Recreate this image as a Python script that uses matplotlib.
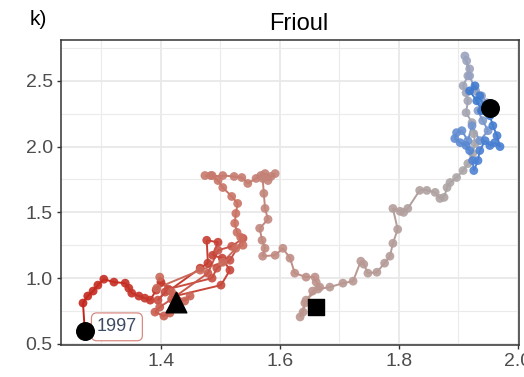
import numpy as np
import matplotlib
matplotlib.use("Agg")
import matplotlib.pyplot as plt
from matplotlib.collections import LineCollection
from matplotlib.colors import LinearSegmentedColormap
from matplotlib.ticker import MultipleLocator

plt.rcParams['font.family'] = ['Liberation Sans', 'DejaVu Sans']

# yearly trajectory of the Frioul site, in time order
x_vals = [
    1.272, 1.269, 1.277, 1.286, 1.294, 1.304, 1.321, 1.340, 1.346, 1.351,
    1.363, 1.373, 1.382, 1.392, 1.400, 1.415, 1.466, 1.479, 1.477, 1.496,
    1.487, 1.503, 1.516, 1.501, 1.424, 1.407, 1.395, 1.412, 1.486, 1.494,
    1.516, 1.538, 1.519, 1.496, 1.479, 1.418, 1.398, 1.390, 1.405, 1.415,
    1.427, 1.449, 1.440, 1.418, 1.398, 1.393, 1.466, 1.504, 1.526, 1.538,
    1.534, 1.528, 1.524, 1.526, 1.529, 1.519, 1.504, 1.496, 1.484, 1.474,
    1.486, 1.504, 1.523, 1.536, 1.546, 1.560, 1.568, 1.575, 1.585, 1.592,
    1.580, 1.571, 1.573, 1.575, 1.580, 1.566, 1.570, 1.575, 1.571, 1.592,
    1.605, 1.617, 1.625, 1.644, 1.659, 1.661, 1.667, 1.655, 1.642, 1.639,
    1.634, 1.644, 1.664, 1.684, 1.706, 1.723, 1.736, 1.741, 1.748, 1.763,
    1.776, 1.785, 1.790, 1.798, 1.790, 1.802, 1.808, 1.815, 1.835, 1.847,
    1.861, 1.869, 1.876, 1.881, 1.886, 1.897, 1.908, 1.916, 1.924, 1.928,
    1.926, 1.923, 1.913, 1.916, 1.913, 1.908, 1.916, 1.919, 1.914, 1.911,
    1.919, 1.929, 1.939, 1.948, 1.933, 1.941, 1.950, 1.936, 1.923, 1.916,
    1.906, 1.897, 1.894, 1.903, 1.913, 1.919, 1.924, 1.926, 1.933, 1.936,
    1.945, 1.953, 1.961, 1.970, 1.965, 1.958, 1.953, 1.943, 1.936, 1.928,
    1.919, 1.931, 1.939, 1.953,
]
y_vals = [
    0.598, 0.811, 0.864, 0.902, 0.947, 0.992, 0.970, 0.962, 0.924, 0.886,
    0.864, 0.848, 0.833, 0.909, 0.970, 0.909, 1.076, 1.114, 1.288, 1.273,
    1.174, 1.152, 1.061, 0.947, 0.864, 0.894, 0.833, 0.917, 1.000, 1.076,
    1.136, 1.303, 1.242, 1.212, 1.038, 0.841, 0.780, 0.742, 0.712, 0.735,
    0.803, 0.864, 0.826, 0.894, 1.008, 0.924, 1.061, 1.121, 1.227, 1.250,
    1.311, 1.348, 1.417, 1.492, 1.568, 1.621, 1.689, 1.742, 1.780, 1.780,
    1.780, 1.780, 1.773, 1.765, 1.720, 1.758, 1.780, 1.795, 1.773, 1.795,
    1.742, 1.758, 1.644, 1.530, 1.447, 1.379, 1.288, 1.227, 1.167, 1.174,
    1.227, 1.152, 1.038, 1.008, 1.008, 0.970, 0.932, 0.902, 0.811, 0.742,
    0.705, 0.833, 0.917, 0.932, 0.962, 0.977, 1.129, 1.106, 1.038, 1.045,
    1.114, 1.167, 1.265, 1.371, 1.530, 1.508, 1.500, 1.530, 1.667, 1.667,
    1.652, 1.606, 1.614, 1.689, 1.727, 1.765, 1.818, 1.871, 1.947, 2.023,
    2.098, 2.182, 2.258, 2.348, 2.409, 2.462, 2.538, 2.591, 2.652, 2.689,
    2.538, 2.424, 2.386, 2.333, 2.273, 2.197, 2.121, 2.045, 2.159, 2.045,
    2.121, 2.106, 2.061, 2.030, 2.008, 1.970, 1.894, 1.818, 1.894, 1.970,
    2.045, 2.008, 2.030, 2.000, 2.083, 2.159, 2.235, 2.311, 2.386, 2.462,
    2.424, 2.348, 2.273, 2.295,
]

start_year = "1997"
label_xy = (1.326, 0.63)
triangle_xy = (1.425, 0.815)
square_xy = (1.660, 0.783)

x_ticks = [1.4, 1.6, 1.8, 2.0]
y_ticks = [0.5, 1.0, 1.5, 2.0, 2.5]

time_cmap = LinearSegmentedColormap.from_list(
    "time",
    [(0.0, "#C4241A"), (0.3, "#CB6F60"), (0.55, "#BC968F"),
     (0.72, "#ABA6A8"), (0.79, "#9CA3BE"), (0.85, "#6F93D0"),
     (0.9, "#4F82D3"), (1.0, "#3A78CF")],
)

x = np.array(x_vals)
y = np.array(y_vals)
n = len(x)
t = np.linspace(0, 1, n)

fig = plt.figure(figsize=(5.24, 3.77), dpi=100)
ax = fig.add_axes([0.1164, 0.0849, 0.8741, 0.8103])

# path segments coloured by time
pts = np.column_stack([x, y])
segs = np.stack([pts[:-1], pts[1:]], axis=1)
t_mid = (t[:-1] + t[1:]) / 2
lc = LineCollection(segs, colors=time_cmap(t_mid), linewidths=1.4, zorder=2)
ax.add_collection(lc)
ax.scatter(x, y, c=time_cmap(t), s=40, linewidths=0, alpha=0.9, zorder=3)

ax.text(label_xy[0], label_xy[1], start_year, ha='center', va='center',
        fontsize=13, color='#3D4B63', zorder=4,
        bbox=dict(boxstyle='round,pad=0.3,rounding_size=0.3', fc='white',
                  ec='#D98A82', lw=0.9))

ax.scatter([x[0], x[-1]], [y[0], y[-1]], s=160, color='black', zorder=5)
ax.scatter([triangle_xy[0]], [triangle_xy[1]], marker='^', s=220, color='black', zorder=5)
ax.scatter([square_xy[0]], [square_xy[1]], marker='s', s=140, color='black', zorder=5)

ax.set_xlim(1.232, 2.002)
ax.set_ylim(0.492, 2.814)
ax.set_xticks(x_ticks)
ax.set_yticks(y_ticks)
ax.xaxis.set_minor_locator(MultipleLocator(0.1))
ax.yaxis.set_minor_locator(MultipleLocator(0.25))
ax.set_xticklabels([f"{v:.1f}" for v in x_ticks])
ax.set_yticklabels([f"{v:.1f}" for v in y_ticks])

ax.grid(which='major', color='#E8E8E8', linewidth=1.3, zorder=0)
ax.grid(which='minor', color='#EBEBEB', linewidth=0.8, zorder=0)
ax.set_axisbelow(True)

ax.tick_params(which='major', length=3, width=1.0, color='#333333',
               labelsize=14, labelcolor='#4D4D4D', pad=3)
ax.tick_params(which='minor', length=0)
for sp in ax.spines.values():
    sp.set_color('#333333')
    sp.set_linewidth(1.1)

fig.text(0.57, 1 - 30 / 377, "Frioul", ha='center', va='baseline', fontsize=17, color='black')
fig.text(0.057, 1 - 10 / 377, "k)", ha='left', va='top', fontsize=15, color='black')

fig.savefig("out.png", dpi=100)
